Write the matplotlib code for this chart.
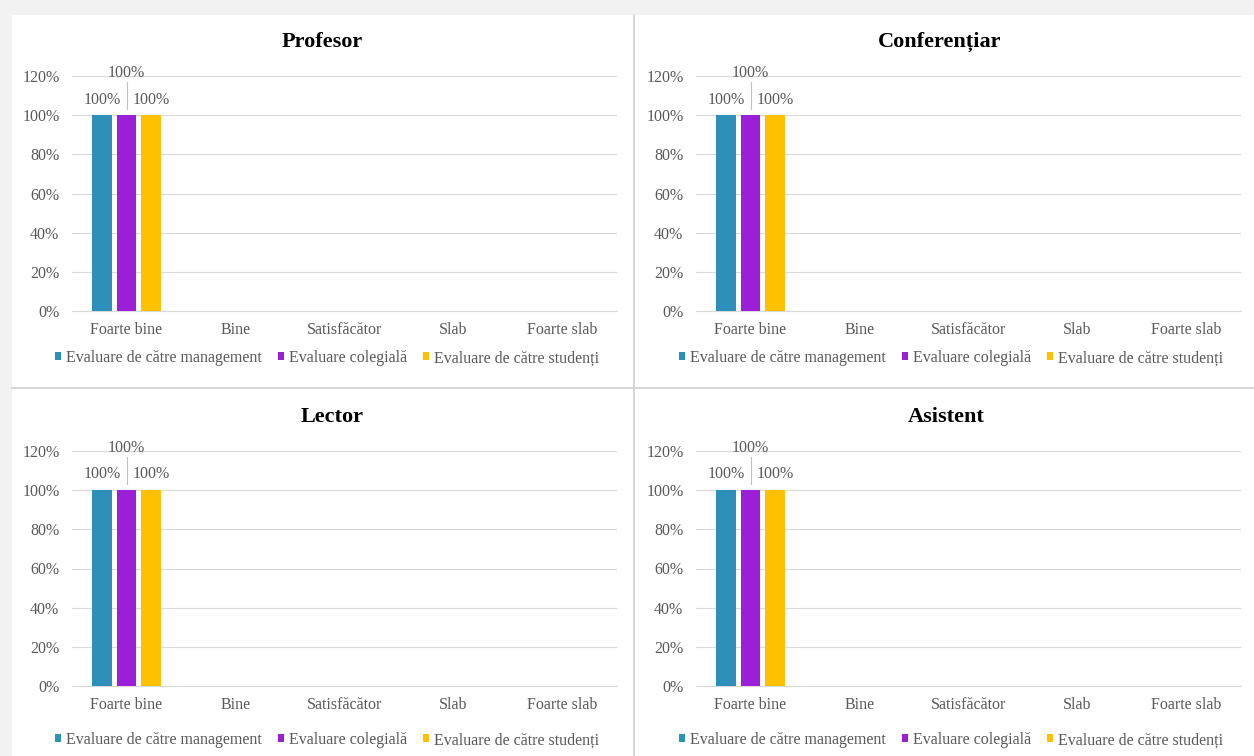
import matplotlib
matplotlib.use("Agg")
import matplotlib.pyplot as plt
from matplotlib.patches import Rectangle
from matplotlib.lines import Line2D
import numpy as np

plt.rcParams['font.family'] = ['Liberation Serif', 'DejaVu Serif']

categories = ['Foarte bine', 'Bine', 'Satisfăcător', 'Slab', 'Foarte slab']
series_names = ['Evaluare de către management', 'Evaluare colegială', 'Evaluare de către studenți']
panel_titles = ['Profesor', 'Conferențiar', 'Lector', 'Asistent']
colors = ['#2E90BA', '#9A1FD6', '#FFC000']

# values per panel, per series (fractions)
profesor_mgmt = [1.0, 0, 0, 0, 0]
profesor_coleg = [1.0, 0, 0, 0, 0]
profesor_stud = [1.0, 0, 0, 0, 0]
conf_mgmt = [1.0, 0, 0, 0, 0]
conf_coleg = [1.0, 0, 0, 0, 0]
conf_stud = [1.0, 0, 0, 0, 0]
lector_mgmt = [1.0, 0, 0, 0, 0]
lector_coleg = [1.0, 0, 0, 0, 0]
lector_stud = [1.0, 0, 0, 0, 0]
asist_mgmt = [1.0, 0, 0, 0, 0]
asist_coleg = [1.0, 0, 0, 0, 0]
asist_stud = [1.0, 0, 0, 0, 0]
panel_values = [
    [profesor_mgmt, profesor_coleg, profesor_stud],
    [conf_mgmt, conf_coleg, conf_stud],
    [lector_mgmt, lector_coleg, lector_stud],
    [asist_mgmt, asist_coleg, asist_stud],
]
yticks = [0, 0.2, 0.4, 0.6, 0.8, 1.0, 1.2]
ytick_labels = ['0%', '20%', '40%', '60%', '80%', '100%', '120%']

W, H = 1254, 756
fig = plt.figure(figsize=(W / 100, H / 100), dpi=100)
fig.patch.set_facecolor('#F2F2F2')

def fx(px):
    return px / W

def fy(py):
    return 1 - py / H

# white chart area
fig.patches.append(Rectangle((fx(12), 0), fx(W - 12), fy(15), transform=fig.transFigure,
                             facecolor='white', edgecolor='none', zorder=-10))
# panel separators
fig.lines.append(Line2D([fx(634), fx(634)], [0, fy(15)], transform=fig.transFigure,
                        color='#D0D0D0', lw=1.2, zorder=-5))
fig.lines.append(Line2D([fx(12), 1], [fy(388), fy(388)], transform=fig.transFigure,
                        color='#D0D0D0', lw=1.2, zorder=-5))

ax_lefts = [72, 696, 72, 696]
ax_bottoms = [311, 311, 686, 686]
legend_x = [327, 951, 327, 951]
title_x = [322, 940, 332, 946]
title_y = [42, 42, 417, 417]
legend_y = [358, 358, 740, 740]
ax_w = 545
ax_h = 235

x = np.arange(len(categories))
bw = 0.18
offsets = [-0.225, 0.0, 0.225]
grey = '#595959'
fs = 11.5

for i in range(4):
    ax = fig.add_axes([fx(ax_lefts[i]), fy(ax_bottoms[i]), ax_w / W, ax_h / H])
    ax.set_facecolor('none')
    handles = []
    for s in range(3):
        vals = panel_values[i][s]
        b = ax.bar(x + offsets[s], vals, width=bw, color=colors[s], zorder=3,
                   label=series_names[s])
        handles.append(b)
        for xi, v in zip(x, vals):
            if v > 0:
                if s == 1:
                    ax.text(xi + offsets[s], v + 0.215, f'{v:.0%}', ha='center', va='center',
                            fontsize=fs, color=grey)
                    ax.plot([xi + offsets[s]] * 2, [v + 0.03, v + 0.17], color='#BFBFBF',
                            lw=0.8, zorder=4)
                else:
                    ax.text(xi + offsets[s], v + 0.08, f'{v:.0%}', ha='center', va='center',
                            fontsize=fs, color=grey)
    ax.set_xlim(-0.5, len(categories) - 0.5)
    ax.set_ylim(0, 1.2)
    ax.set_yticks(yticks)
    ax.set_yticklabels(ytick_labels)
    ax.set_xticks(x)
    ax.set_xticklabels(categories)
    ax.tick_params(axis='both', length=0, labelsize=fs, colors=grey)
    ax.tick_params(axis='y', pad=9)
    ax.tick_params(axis='x', pad=8)
    ax.grid(axis='y', color='#D9D9D9', lw=0.8, zorder=0)
    for sp in ['top', 'right', 'left']:
        ax.spines[sp].set_visible(False)
    ax.spines['bottom'].set_color('#D9D9D9')
    ax.spines['bottom'].set_linewidth(0.8)
    fig.text(fx(title_x[i]), fy(title_y[i]), panel_titles[i], ha='center', va='center',
             fontsize=16, fontweight='bold', color='black')
    fig.legend(handles=handles, labels=series_names, loc='center',
               bbox_to_anchor=(fx(legend_x[i]), fy(legend_y[i])), ncol=3, frameon=False,
               fontsize=fs, labelcolor=grey, handlelength=0.4, handleheight=0.4,
               handletextpad=0.3, columnspacing=1.0, borderaxespad=0)

fig.savefig('out.png', dpi=100, facecolor=fig.get_facecolor())
